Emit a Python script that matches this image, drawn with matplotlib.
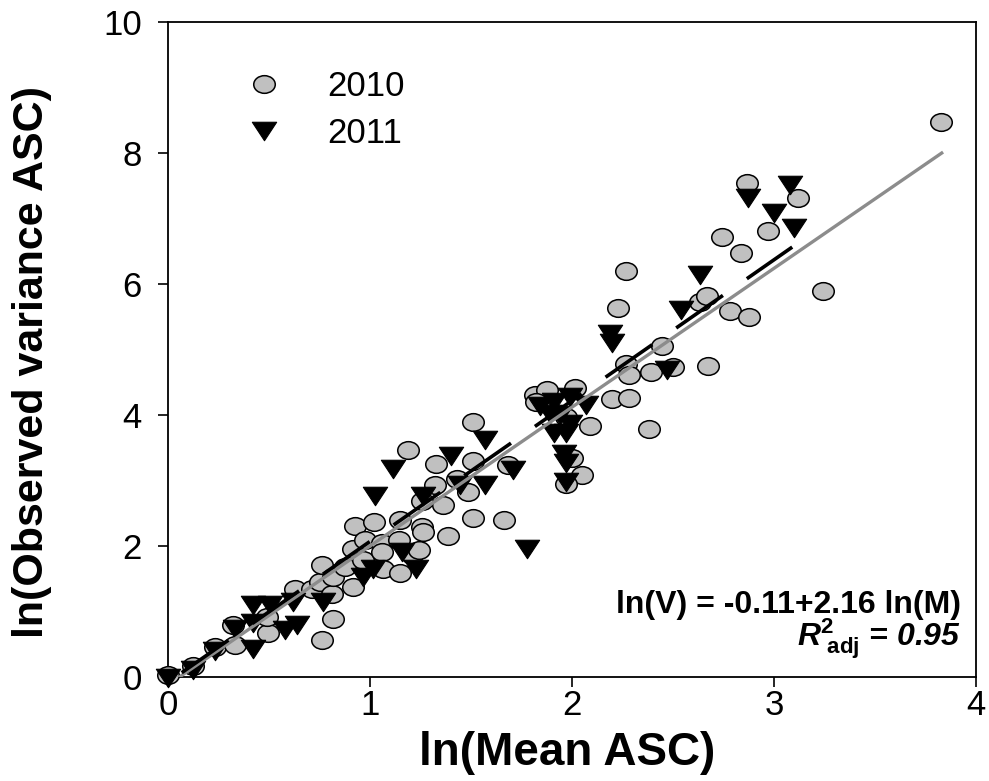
import matplotlib
matplotlib.use("Agg")
import matplotlib.pyplot as plt
import numpy as np
from matplotlib.path import Path
from matplotlib.transforms import Affine2D

plt.rcParams['font.family'] = ['Liberation Sans', 'DejaVu Sans']
plt.rcParams['mathtext.fontset'] = 'custom'
plt.rcParams['mathtext.rm'] = 'Liberation Sans'
plt.rcParams['mathtext.it'] = 'Liberation Sans:italic'
plt.rcParams['mathtext.bf'] = 'Liberation Sans:bold'
plt.rcParams['mathtext.bfit'] = 'Liberation Sans:italic:bold'
plt.rcParams['lines.scale_dashes'] = False

# 2010 observations: ln(mean ASC), ln(observed variance ASC)
x2010 = [0.00, 0.125, 0.233, 0.33, 0.323, 0.497, 0.489, 0.629, 0.711, 0.752,
         0.76, 0.81, 0.818, 0.76, 0.818, 0.876, 0.917, 0.917, 0.926, 0.967,
         0.975, 1.02, 1.058, 1.058, 1.066, 1.145, 1.149, 1.149, 1.206, 1.24,
         1.256, 1.264, 1.388, 1.19, 1.327, 1.32, 1.256, 1.363, 1.43, 1.487,
         1.508, 1.508, 1.51, 1.663, 1.685, 1.817, 1.875, 2.015, 1.824, 1.97,
         2.09, 2.00, 2.05, 1.97, 2.196, 2.28, 2.38, 2.266, 2.28, 2.39,
         2.50, 2.675, 2.444, 2.226, 2.266, 2.634, 2.667, 2.78, 2.876, 2.74,
         2.835, 2.97, 2.865, 3.12, 3.24, 3.825]
y2010 = [0.03, 0.16, 0.46, 0.49, 0.79, 0.67, 0.92, 1.35, 1.35, 1.45,
         1.71, 1.27, 0.89, 0.56, 1.53, 1.68, 1.38, 1.96, 2.31, 1.79,
         2.09, 2.36, 2.04, 1.91, 1.65, 2.09, 2.40, 1.58, 1.86, 1.94,
         2.29, 2.22, 2.15, 3.47, 3.25, 2.93, 2.68, 2.63, 3.03, 2.83,
         3.90, 3.29, 2.42, 2.40, 3.24, 4.31, 4.38, 4.41, 4.20, 3.97,
         3.83, 3.34, 3.08, 2.95, 4.24, 4.26, 3.78, 4.78, 4.61, 4.65,
         4.74, 4.75, 5.05, 5.64, 6.20, 5.73, 5.82, 5.59, 5.50, 6.72,
         6.48, 6.81, 7.54, 7.31, 5.89, 8.48]

# 2011 observations
x2011 = [0.00, 0.125, 0.233, 0.422, 0.332, 0.422, 0.422, 0.505, 0.579, 0.637,
         0.62, 0.769, 0.967, 1.016, 1.157, 1.23, 1.025, 1.116, 1.264, 1.40,
         1.446, 1.57, 1.57, 1.71, 1.776, 1.84, 1.91, 1.99, 2.07, 1.94,
         1.99, 1.91, 1.97, 1.96, 1.97, 1.97, 2.19, 2.20, 2.47, 2.54,
         2.634, 2.873, 3.08, 3.00, 3.10, 1.89]
y2011 = [-0.02, 0.11, 0.39, 0.43, 0.74, 0.82, 1.10, 1.10, 0.72, 0.79,
         1.15, 1.15, 1.53, 1.65, 1.91, 1.65, 2.76, 3.18, 2.76, 3.37,
         2.93, 2.93, 3.62, 3.16, 1.96, 4.13, 4.20, 4.28, 4.15, 4.00,
         3.87, 3.72, 3.72, 3.41, 3.26, 2.98, 5.24, 5.10, 4.69, 5.61,
         6.14, 7.31, 7.51, 7.08, 6.86, 4.02]

# fitted lines (intercept, slope, x range)
fit_all = (-0.12, 2.12, 0.0, 3.83)
fit_2011 = (-0.08, 2.15, 0.0, 3.09)

legend_labels = ['2010', '2011']
eq_text = 'ln(V) = -0.11+2.16 ln(M)'
r2_text = r'$\mathbfit{R}^{\mathbf{2}}_{\ \mathbf{adj}}$ = 0.95'

# slightly squashed marker shapes, like the original
ellipse = Path.unit_circle().transformed(Affine2D().scale(1.0, 0.82))
tri_down = Path([(-1, 0.76), (1, 0.76), (0, -0.76), (-1, 0.76)],
                [Path.MOVETO, Path.LINETO, Path.LINETO, Path.CLOSEPOLY])

fig = plt.figure(figsize=(9.89, 7.81), dpi=100)
ax = fig.add_axes([0.1699, 0.1332, 0.817, 0.8386])

ax.plot(x2010, y2010, ls='none', marker=ellipse, ms=15.5, mfc='#c0c0c0',
        mec='black', mew=1.1, clip_on=False, label=legend_labels[0], zorder=3)
ax.plot(x2011, y2011, ls='none', marker=tri_down, ms=17.5, mfc='black',
        mec='black', mew=0.8, clip_on=False, label=legend_labels[1], zorder=3)

xa = np.array(fit_all[2:])
ax.plot(xa, fit_all[0] + fit_all[1] * xa, color='#8c8c8c', lw=2.4, zorder=4)
xb = np.array(fit_2011[2:])
ax.plot(xb, fit_2011[0] + fit_2011[1] * xb, color='black', lw=2.6,
        linestyle=(50, (41, 21)), zorder=5, dash_capstyle='butt')

ax.set_xlim(0, 4)
ax.set_ylim(0, 10)
ax.set_xticks([0, 1, 2, 3, 4])
ax.set_yticks([0, 2, 4, 6, 8, 10])
ax.tick_params(axis='both', direction='out', length=7, width=1.2, labelsize=25)
ax.tick_params(axis='x', pad=2)
ax.tick_params(axis='y', pad=12)
for sp in ax.spines.values():
    sp.set_linewidth(1.3)

ax.set_xlabel('ln(Mean ASC)', fontsize=33, fontweight='bold')
ax.set_ylabel('ln(Observed variance ASC)', fontsize=31, fontweight='bold')
ax.xaxis.set_label_coords(0.494, -0.082)
ax.yaxis.set_label_coords(-0.143, 0.481)

ax.text(3.926, 1.10, eq_text, fontsize=23, fontweight='bold', ha='right', va='center')
ax.text(3.926, 0.58, r2_text, fontsize=23, fontweight='bold', fontstyle='italic',
        ha='right', va='center')

ax.legend(loc='upper left', bbox_to_anchor=(0.098, 0.926), frameon=False,
          fontsize=25, handlelength=0.95, handletextpad=1.35, borderpad=0,
          borderaxespad=0, labelspacing=0.38, numpoints=1)

fig.savefig('out.png', dpi=100)
